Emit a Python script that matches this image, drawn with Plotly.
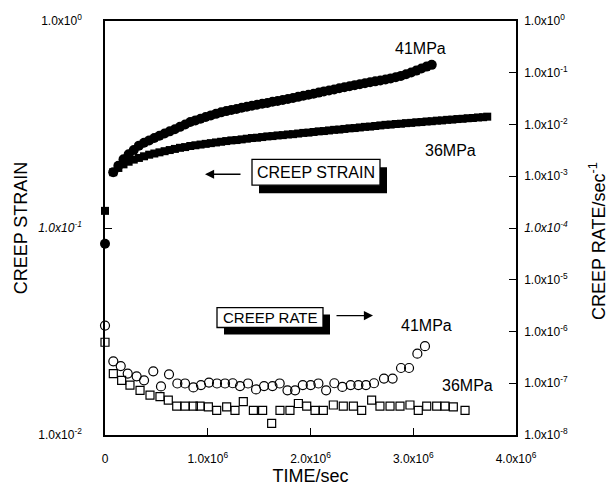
import plotly.graph_objects as go

# ---------------- data ----------------
# creep strain, 41 MPa (filled circles); time in units of 1e6 s
strain41_t = [0.0, 0.08, 0.13, 0.18, 0.23, 0.28, 0.33, 0.38, 0.43, 0.48, 0.53, 0.58, 0.63,
              0.68, 0.73, 0.78, 0.83, 0.88, 0.93, 0.98, 1.03, 1.08, 1.13, 1.18, 1.23, 1.28,
              1.33, 1.38, 1.43, 1.48, 1.53, 1.58, 1.63, 1.68, 1.73, 1.78, 1.83, 1.88, 1.93,
              1.98, 2.03, 2.08, 2.13, 2.18, 2.23, 2.28, 2.33, 2.38, 2.43, 2.48, 2.53, 2.58,
              2.63, 2.68, 2.73, 2.78, 2.83, 2.88, 2.93, 2.98, 3.03, 3.08, 3.13, 3.18]
strain41 = [0.084, 0.186, 0.200, 0.215, 0.227, 0.238, 0.250, 0.258, 0.265, 0.272, 0.279, 0.286,
            0.293, 0.300, 0.308, 0.316, 0.325, 0.331, 0.337, 0.344, 0.350, 0.356, 0.362, 0.367,
            0.372, 0.376, 0.381, 0.385, 0.390, 0.394, 0.398, 0.402, 0.407, 0.411, 0.415, 0.420,
            0.425, 0.430, 0.435, 0.440, 0.445, 0.451, 0.457, 0.462, 0.467, 0.473, 0.479, 0.484,
            0.490, 0.495, 0.500, 0.506, 0.511, 0.516, 0.522, 0.528, 0.535, 0.543, 0.553, 0.564,
            0.576, 0.590, 0.602, 0.614]

# creep strain, 36 MPa (filled squares)
strain36_t = [0.0, 0.08, 0.13, 0.18, 0.23, 0.28, 0.33, 0.38, 0.43, 0.48, 0.53, 0.58, 0.63,
              0.68, 0.73, 0.78, 0.83, 0.88, 0.93, 0.98, 1.03, 1.08, 1.13, 1.18, 1.23, 1.28,
              1.33, 1.38, 1.43, 1.48, 1.53, 1.58, 1.63, 1.68, 1.73, 1.78, 1.83, 1.88, 1.93,
              1.98, 2.03, 2.08, 2.13, 2.18, 2.23, 2.28, 2.33, 2.38, 2.43, 2.48, 2.53, 2.58,
              2.63, 2.68, 2.73, 2.78, 2.83, 2.88, 2.93, 2.98, 3.03, 3.08, 3.13, 3.18, 3.23,
              3.28, 3.33, 3.38, 3.43, 3.48, 3.53, 3.58, 3.63, 3.68, 3.72]
strain36 = [0.121, 0.186, 0.195, 0.203, 0.209, 0.214, 0.218, 0.222, 0.226, 0.229, 0.232, 0.235,
            0.238, 0.241, 0.244, 0.246, 0.249, 0.251, 0.253, 0.255, 0.257, 0.259, 0.261, 0.263,
            0.265, 0.266, 0.268, 0.270, 0.272, 0.273, 0.275, 0.277, 0.278, 0.280, 0.281, 0.283,
            0.284, 0.286, 0.288, 0.289, 0.291, 0.293, 0.294, 0.296, 0.298, 0.299, 0.301, 0.303,
            0.304, 0.306, 0.308, 0.309, 0.311, 0.313, 0.315, 0.316, 0.318, 0.319, 0.321, 0.322,
            0.324, 0.325, 0.327, 0.328, 0.330, 0.331, 0.333, 0.334, 0.336, 0.337, 0.339, 0.340,
            0.342, 0.343, 0.345]

# creep rate, 41 MPa (open circles), 1/s
rate41_t = [0.0, 0.081, 0.153, 0.221, 0.308, 0.380, 0.470, 0.545, 0.623, 0.704, 0.779, 0.860,
            0.934, 1.012, 1.090, 1.168, 1.243, 1.314, 1.392, 1.470, 1.548, 1.630, 1.700, 1.776,
            1.850, 1.925, 2.002, 2.077, 2.152, 2.232, 2.310, 2.391, 2.466, 2.540, 2.618, 2.715,
            2.799, 2.881, 2.959, 3.040, 3.114]
rate41 = [1.3e-6, 2.65e-7, 2.15e-7, 1.54e-7, 1.36e-7, 1.14e-7, 1.70e-7, 8.7e-8, 1.49e-7, 9.9e-8,
          9.9e-8, 8.3e-8, 9.2e-8, 1.03e-7, 9.9e-8, 9.9e-8, 1.0e-7, 8.8e-8, 9.9e-8, 7.6e-8, 8.8e-8,
          8.8e-8, 9.9e-8, 7.3e-8, 7.3e-8, 9.2e-8, 9.2e-8, 9.9e-8, 7.3e-8, 1.0e-7, 8.5e-8, 9.2e-8,
          9.2e-8, 9.2e-8, 1.0e-7, 1.23e-7, 1.23e-7, 1.97e-7, 1.97e-7, 3.72e-7, 5.2e-7]

# creep rate, 36 MPa (open squares), 1/s
rate36_t = [0.0, 0.081, 0.162, 0.243, 0.341, 0.438, 0.535, 0.616, 0.698, 0.779, 0.860, 0.925,
            1.006, 1.087, 1.184, 1.265, 1.346, 1.444, 1.534, 1.622, 1.703, 1.800, 1.882, 1.963,
            2.044, 2.125, 2.222, 2.319, 2.417, 2.498, 2.595, 2.676, 2.774, 2.871, 2.968, 3.049,
            3.131, 3.228, 3.309, 3.390, 3.504]
rate36 = [6.2e-7, 1.54e-7, 1.14e-7, 9.2e-8, 7.3e-8, 5.9e-8, 5.5e-8, 4.7e-8, 3.6e-8, 3.6e-8,
          3.6e-8, 3.6e-8, 3.5e-8, 3.0e-8, 3.5e-8, 3.0e-8, 4.4e-8, 3.0e-8, 3.0e-8, 1.68e-8, 3.0e-8,
          3.0e-8, 4.06e-8, 3.6e-8, 3.0e-8, 3.0e-8, 3.8e-8, 3.6e-8, 3.6e-8, 3.0e-8, 4.7e-8, 3.6e-8,
          3.6e-8, 3.6e-8, 3.8e-8, 3.0e-8, 3.6e-8, 3.6e-8, 3.6e-8, 3.5e-8, 3.0e-8]

time_ticks = [0, 1e6, 2e6, 3e6, 4e6]
time_labels = ["0", "1.0x10<sup>6</sup>", "2.0x10<sup>6</sup>", "3.0x10<sup>6</sup>", "4.0x10<sup>6</sup>"]
strain_ticks = [1e-2, 1e-1, 1e0]
strain_labels = ["1.0x10<sup>-2</sup>", "<i>1.0x10<sup>-1</sup></i>", "1.0x10<sup>0</sup>"]
rate_ticks = [1e-8, 1e-7, 1e-6, 1e-5, 1e-4, 1e-3, 1e-2, 1e-1, 1e0]
rate_labels = ["1.0x10<sup>-8</sup>", "1.0x10<sup>-7</sup>", "1.0x10<sup>-6</sup>",
               "1.0x10<sup>-5</sup>", "<i>1.0x10<sup>-4</sup></i>", "1.0x10<sup>-3</sup>",
               "1.0x10<sup>-2</sup>", "1.0x10<sup>-1</sup>", "1.0x10<sup>0</sup>"]

# ---------------- figure ----------------
W, H = 612, 495
L, R, T, B = 105, 516, 19, 435
FONT = "Liberation Sans, Arial, sans-serif"


def fx(p):
    return (p - L) / (R - L)


def fy(p):
    return (B - p) / (B - T)


def secs(ts):
    return [t * 1e6 for t in ts]


fig = go.Figure()
fig.add_trace(go.Scatter(x=secs(strain36_t), y=strain36, mode="markers", yaxis="y",
                         marker=dict(symbol="square", size=8, color="black"),
                         cliponaxis=False, name="36MPa strain"))
fig.add_trace(go.Scatter(x=secs(strain41_t), y=strain41, mode="markers", yaxis="y",
                         marker=dict(symbol="circle", size=10, color="black"),
                         cliponaxis=False, name="41MPa strain"))
fig.add_trace(go.Scatter(x=secs(rate36_t), y=rate36, mode="markers", yaxis="y2",
                         marker=dict(symbol="square-open", size=8, color="black",
                                     line=dict(width=1.2)),
                         cliponaxis=False, name="36MPa rate"))
fig.add_trace(go.Scatter(x=secs(rate41_t), y=rate41, mode="markers", yaxis="y2",
                         marker=dict(symbol="circle-open", size=9, color="black",
                                     line=dict(width=1.2)),
                         cliponaxis=False, name="41MPa rate"))

axis_common = dict(showline=True, linecolor="black", linewidth=1.5, ticks="inside",
                   tickcolor="black", tickwidth=1.3, ticklen=7, showgrid=False,
                   zeroline=False, tickfont=dict(family=FONT, size=12, color="black"))

fig.update_layout(
    width=W, height=H,
    margin=dict(l=L, r=W - R, t=T, b=H - B, pad=0),
    paper_bgcolor="white", plot_bgcolor="white",
    showlegend=False,
    font=dict(family=FONT, color="black"),
    xaxis=dict(range=[0, 4e6], tickvals=time_ticks, ticktext=time_labels, mirror=True,
               title=dict(text="TIME/sec", font=dict(size=18), standoff=2),
               ticklabelstandoff=12, **axis_common),
    yaxis=dict(type="log", range=[-2, 0], tickvals=strain_ticks, ticktext=strain_labels,
               title=dict(text="CREEP STRAIN", font=dict(size=18), standoff=6),
               ticklabelstandoff=19, **axis_common),
    yaxis2=dict(type="log", range=[-8, 0], tickvals=rate_ticks, ticktext=rate_labels,
                overlaying="y", side="right",
                ticklabelstandoff=4, **axis_common),
)

shapes = []
annotations = []

# right-hand axis title
annotations.append(dict(text="CREEP RATE/sec<sup>-1</sup>", xref="paper", yref="paper",
                        x=fx(598), y=fy(240), textangle=-90, showarrow=False,
                        xanchor="center", yanchor="middle",
                        font=dict(family=FONT, size=18, color="black")))


def boxed(text, x0, y0, x1, y1, dx, dy, size):
    """White text box with a solid black drop shadow."""
    shapes.append(dict(type="rect", xref="paper", yref="paper",
                       x0=fx(x0 + dx), x1=fx(x1 + dx), y0=fy(y1 + dy), y1=fy(y0 + dy),
                       fillcolor="black", line=dict(width=0)))
    shapes.append(dict(type="rect", xref="paper", yref="paper",
                       x0=fx(x0), x1=fx(x1), y0=fy(y1), y1=fy(y0),
                       fillcolor="white", line=dict(color="black", width=1.3)))
    annotations.append(dict(text=text, xref="paper", yref="paper",
                            x=fx((x0 + x1) / 2), y=fy((y0 + y1) / 2),
                            showarrow=False, xanchor="center", yanchor="middle",
                            font=dict(family=FONT, size=size, color="black")))


boxed("CREEP STRAIN", 252, 158, 380, 184, 7, 8, 16)
boxed("CREEP RATE", 217, 307, 323, 327, 7, 7, 15)

# arrows pointing at the relevant axis
annotations.append(dict(xref="paper", yref="paper", x=fx(205), y=fy(173), ax=37, ay=0,
                        text="", showarrow=True, arrowhead=2, arrowsize=1.3,
                        arrowwidth=1.4, arrowcolor="black"))
annotations.append(dict(xref="paper", yref="paper", x=fx(373), y=fy(315), ax=-38, ay=0,
                        text="", showarrow=True, arrowhead=2, arrowsize=1.3,
                        arrowwidth=1.4, arrowcolor="black"))

# stress labels
for txt, xp, yp in [("41MPa", 420, 47), ("36MPa", 450, 149),
                    ("41MPa", 426, 325), ("36MPa", 467, 385)]:
    annotations.append(dict(text=txt, xref="paper", yref="paper", x=fx(xp), y=fy(yp),
                            showarrow=False, xanchor="center", yanchor="middle",
                            font=dict(family=FONT, size=16, color="black")))

fig.update_layout(shapes=shapes, annotations=annotations)
fig.write_html("out.html")
